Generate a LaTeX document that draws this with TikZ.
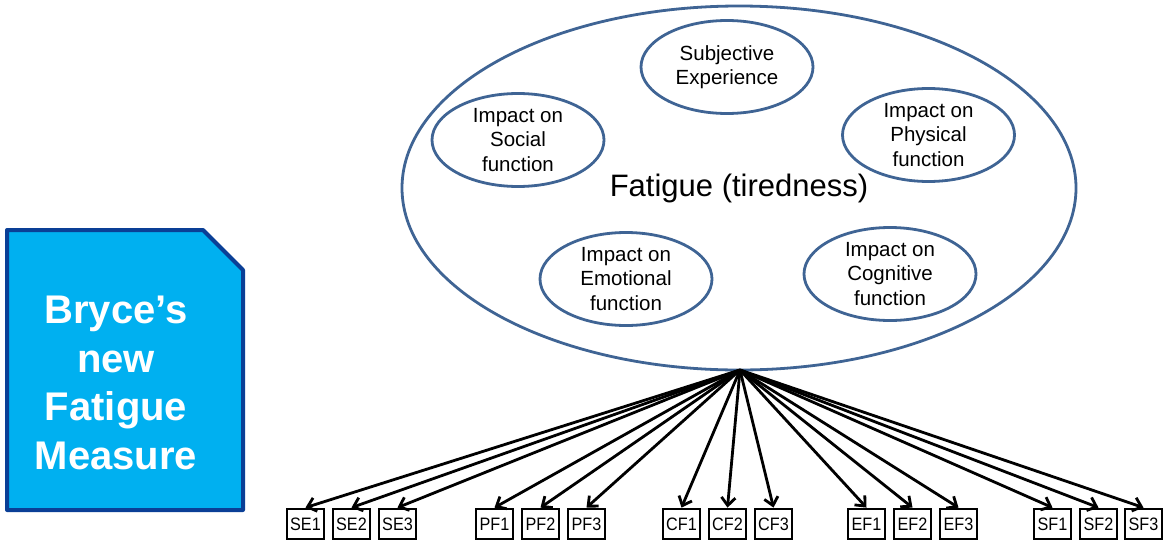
\documentclass[tikz,border=0pt]{standalone}
\usepackage{fontspec}
\setmainfont{Liberation Sans}
\newfontfamily\narrowfont[FakeStretch=0.9]{Liberation Sans}
\usetikzlibrary{shapes.geometric,arrows.meta}
\definecolor{ellline}{HTML}{3F6494}
\definecolor{boxfill}{HTML}{00B0F0}
\definecolor{boxline}{HTML}{0A3F96}
\tikzset{
  facet/.style={ellipse, draw=ellline, line width=2.8pt, minimum width=172pt, minimum height=93pt, inner sep=0pt, align=center, font=\fontsize{20.5}{24.5}\selectfont},
  item/.style={draw=black, line width=2.8pt, minimum width=37pt, minimum height=30pt, inner sep=0pt, font=\narrowfont\fontsize{18}{18}\selectfont},
  load/.style={draw=black, line width=2.8pt, -{Straight Barb[length=8pt,width=14pt,line width=2.8pt]}}
}
\begin{document}
\begin{tikzpicture}[x=1pt,y=-1pt]
\useasboundingbox (0,0) rectangle (1164,541);
% big ellipse
\node[ellipse, draw=ellline, line width=2.8pt, minimum width=674pt, minimum height=364pt, inner sep=0pt, font=\fontsize{31}{31}\selectfont] (fatigue) at (739,188) {Fatigue (tiredness)};
% facets
\node[facet] (se) at (727,67) {Subjective\\Experience};
\node[facet] (sf) at (518,140) {Impact on\\Social\\function};
\node[facet] (pf) at (928.5,135) {Impact on\\Physical\\function};
\node[facet] (ef) at (626,279) {Impact on\\Emotional\\function};
\node[facet] (cf) at (890,274) {Impact on\\Cognitive\\function};
% Bryce box
\path[fill=boxfill, draw=boxline, line width=4pt, line join=round]
  (7,230) -- (203,230) -- (243,270) -- (243,510) -- (7,510) -- cycle;
\node[text=white, align=center, font=\fontsize{40}{48.5}\selectfont\bfseries] (bryce) at (116,383) {Bryce’s\\new\\Fatigue\\Measure};
% indicator boxes
\coordinate (src) at (740,370);
\foreach \n/\x in {SE1/305.5,SE2/351.5,SE3/397.5,PF1/494.5,PF2/540.5,PF3/586.5,CF1/681.5,CF2/727.5,CF3/773.5,EF1/866.5,EF2/912.5,EF3/958.5,SF1/1052.5,SF2/1098.5,SF3/1143.5}{
  \node[item] (\n) at (\x,524) {\n};
  \draw[load] (src) -- (\n.north);
}
\end{tikzpicture}
\end{document}
